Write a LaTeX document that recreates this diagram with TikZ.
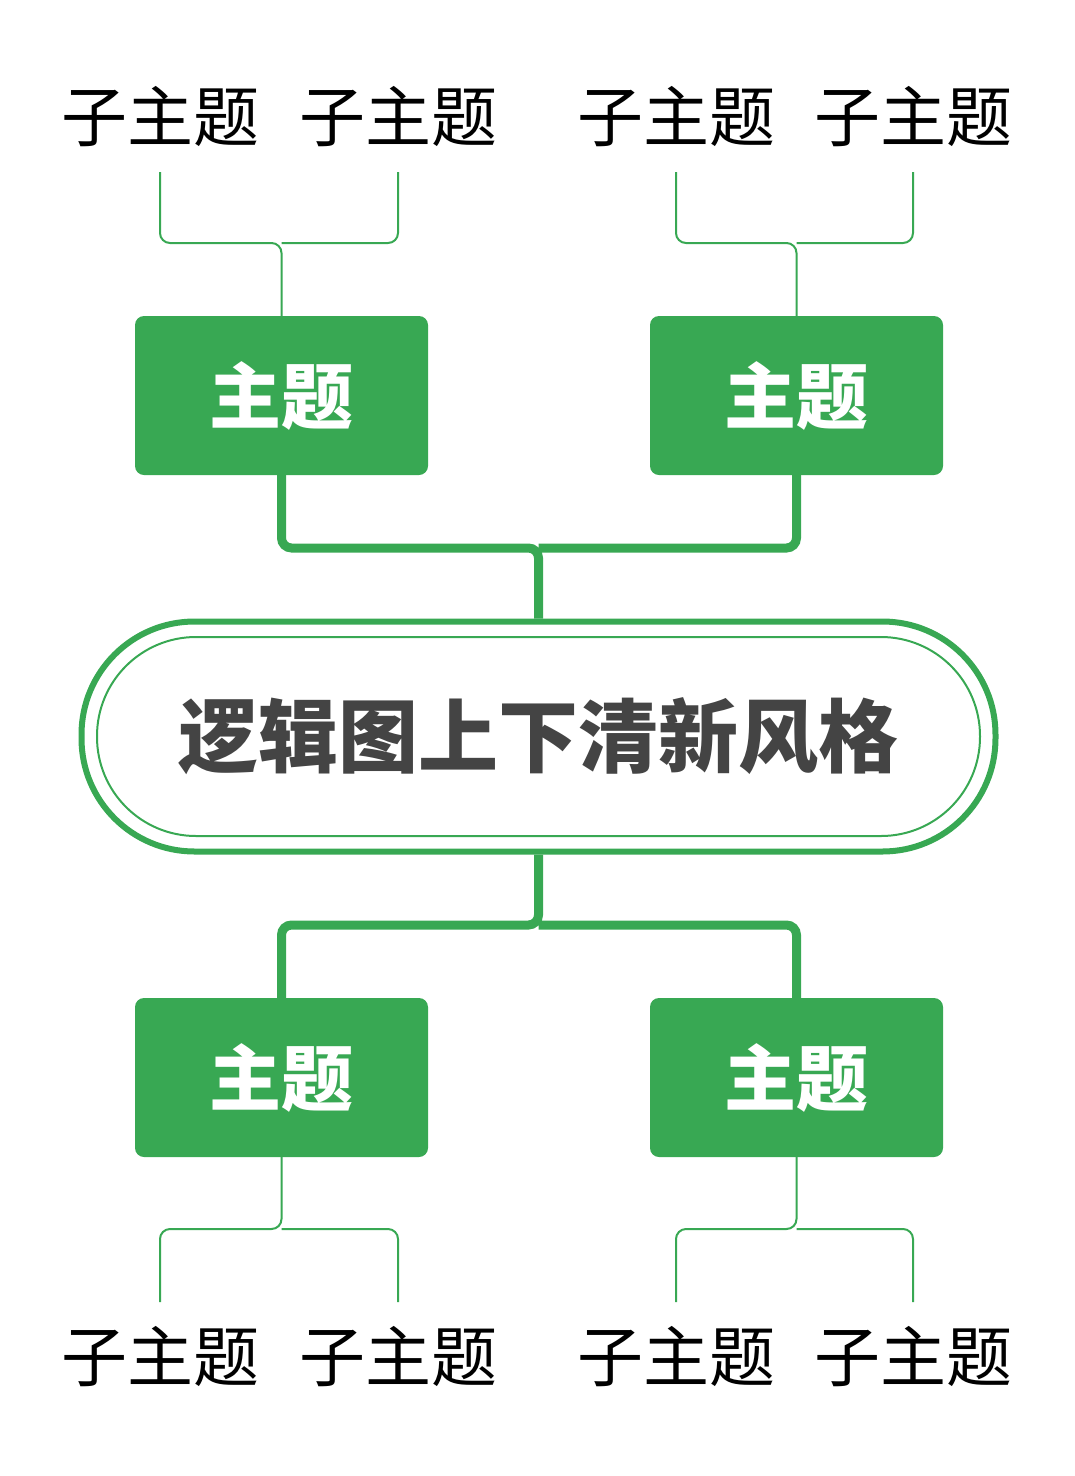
\documentclass[tikz,border=0pt]{standalone}
\usepackage{fontspec}
\newfontfamily\cjk{Noto Sans CJK SC}
\definecolor{gr}{HTML}{38A853}
\definecolor{dk}{HTML}{444444}
\begin{document}
\begin{tikzpicture}[x=1pt,y=-1pt,
  topic/.style={fill=gr,rounded corners=9pt,minimum width=293pt,minimum height=159pt,text=white,font=\cjk\bfseries\fontsize{72}{76}\selectfont,inner sep=0pt},
  sub/.style={font=\cjk\fontsize{66}{70}\selectfont,inner sep=0pt},
  thick/.style={gr,line width=9pt,rounded corners=10pt},
  thin/.style={gr,line width=2pt,rounded corners=10pt}]
\useasboundingbox (0,0) rectangle (1075,1476);
\node[draw=gr,line width=6pt,rounded corners=113pt,minimum width=914pt,minimum height=230pt] (c) at (538.5,736.5) {};
\node[draw=gr,line width=2pt,rounded corners=99pt,minimum width=883pt,minimum height=199pt,text=dk,font=\cjk\bfseries\fontsize{80}{84}\selectfont] (ci) at (538.5,736.5) {逻辑图上下清新风格};
\node[topic] (t1) at (281.5,395.5) {主题};
\node[topic] (t2) at (796.5,395.5) {主题};
\node[topic] (t3) at (281.5,1077.5) {主题};
\node[topic] (t4) at (796.5,1077.5) {主题};
\foreach \n/\x/\y in {a/160/117,b/398/117,c2/676/117,d/913/117,e/160/1357,f/398/1357,g/676/1357,h/913/1357}
  \node[sub] (s\n) at (\x,\y) {子主题};
\coordinate (ct) at (538.5,548); \coordinate (cb) at (538.5,925);
\draw[thick] (t1.south) |- (ct) -- (c.north);
\draw[thick] (t2.south) |- (ct);
\draw[thick] (t3.north) |- (cb) -- (c.south);
\draw[thick] (t4.north) |- (cb);
\draw[thin] (t1.north) -- (281.5,243) -| (160,172);
\draw[thin] (281.5,243) -| (398,172);
\draw[thin] (t2.north) -- (796.5,243) -| (676,172);
\draw[thin] (796.5,243) -| (913,172);
\draw[thin] (t3.south) -- (281.5,1229) -| (160,1302);
\draw[thin] (281.5,1229) -| (398,1302);
\draw[thin] (t4.south) -- (796.5,1229) -| (676,1302);
\draw[thin] (796.5,1229) -| (913,1302);
\end{tikzpicture}
\end{document}
